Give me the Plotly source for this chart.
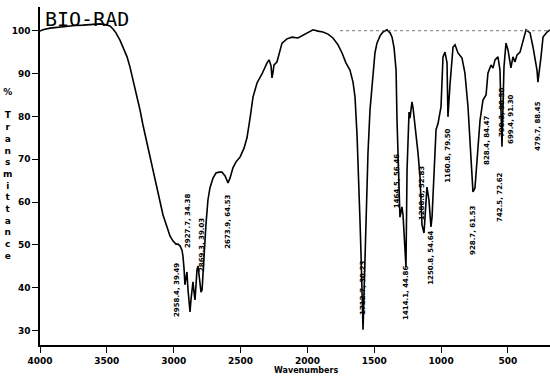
import plotly.graph_objects as go

# Spectrum (x in the chart's axis units, y in % transmittance)
wavenumber = [4000, 3978, 3925, 3850, 3798, 3738, 3678, 3626, 3551, 3506, 3477, 3454, 3432, 3402,
              3379, 3349, 3327, 3305, 3275, 3252, 3230, 3200, 3177, 3155, 3125, 3103, 3080, 3050,
              3028, 3005, 2983, 2968, 2953, 2938, 2931, 2923, 2916, 2908, 2901, 2893, 2886, 2878,
              2871, 2863, 2856, 2848, 2841, 2833, 2826, 2818, 2811, 2803, 2796, 2788, 2781, 2774,
              2759, 2744, 2729, 2706, 2684, 2661, 2639, 2616, 2594, 2579, 2557, 2534, 2504, 2474,
              2452, 2429, 2407, 2377, 2340, 2302, 2287, 2272, 2265, 2257, 2250, 2228, 2205, 2190,
              2153, 2115, 2071, 2033, 1996, 1958, 1921, 1884, 1846, 1809, 1771, 1741, 1712, 1682,
              1659, 1644, 1629, 1614, 1607, 1599, 1592, 1584, 1577, 1569, 1562, 1547, 1532, 1510,
              1495, 1480, 1457, 1435, 1405, 1382, 1367, 1352, 1337, 1330, 1323, 1315, 1308, 1300,
              1293, 1285, 1278, 1270, 1263, 1255, 1248, 1240, 1233, 1225, 1218, 1210, 1195, 1180,
              1173, 1158, 1151, 1143, 1128, 1113, 1106, 1091, 1076, 1068, 1053, 1038, 1023, 1001,
              986, 971, 956, 949, 934, 926, 911, 896, 874, 844, 822, 799, 777, 762, 747, 732, 709,
              687, 664, 650, 627, 612, 597, 575, 560, 545, 530, 515, 500, 478, 463, 448, 433, 410,
              388, 365, 335, 313, 283, 276, 253, 238, 208, 186]
transmittance = [99.9, 100.2, 100.6, 100.9, 101.1, 101.2, 101.3, 101.4, 101.6, 101.4, 101.1, 100.4,
                 99.5, 97.8, 96.2, 93.9, 91.5, 88.5, 85.0, 81.5, 78.0, 73.8, 69.8, 67.0, 63.3, 59.8,
                 57.0, 54.2, 52.1, 50.9, 50.2, 50.2, 49.8, 48.8, 47.4, 44.6, 40.7, 42.3, 43.7, 39.5,
                 36.0, 34.4, 37.2, 40.7, 41.4, 39.0, 37.2, 40.7, 44.2, 45.1, 43.0, 40.7, 39.0, 39.5,
                 43.7, 47.7, 54.7, 60.5, 63.3, 65.6, 66.8, 67.0, 67.0, 66.1, 64.5, 65.6, 68.0, 69.4,
                 70.5, 72.6, 75.0, 79.6, 84.5, 87.8, 89.9, 92.5, 93.2, 91.8, 89.0, 90.4, 92.0, 92.7,
                 95.5, 97.1, 98.1, 98.5, 98.3, 99.0, 99.5, 100.2, 99.9, 99.7, 99.2, 98.3, 96.7, 94.8,
                 92.5, 90.8, 88.0, 84.5, 75.7, 64.0, 55.8, 47.7, 39.5, 30.2, 38.3, 46.5, 57.0, 71.5,
                 81.5, 90.8, 94.8, 97.1, 98.8, 99.7, 100.2, 99.5, 98.5, 96.0, 90.8, 79.1, 72.2, 64.0,
                 56.5, 57.7, 58.9, 57.0, 51.9, 47.7, 44.9, 67.5, 76.9, 81.0, 79.6, 82.4, 83.4, 82.0,
                 78.0, 74.5, 71.5, 65.9, 58.9, 54.7, 52.8, 58.9, 63.5, 60.5, 54.2, 56.5, 66.8, 76.9,
                 78.4, 82.2, 93.9, 95.0, 92.5, 79.9, 87.3, 90.8, 96.2, 96.7, 94.8, 93.6, 90.1, 82.2,
                 71.5, 62.4, 63.3, 69.8, 79.1, 83.8, 85.0, 90.1, 92.0, 91.3, 93.2, 93.9, 90.8, 72.9,
                 91.5, 97.1, 95.5, 91.3, 93.9, 92.7, 94.3, 95.0, 97.8, 100.2, 99.5, 96.2, 90.8, 88.0,
                 93.9, 98.5, 99.7, 100.2]

# Peak labels (text as printed, and where they sit on the axes)
peak_text = ["2958.4, 39.49", "2927.7, 34.38", "2869.3, 39.03", "2673.9, 64.53",
             "1712.7, 30.23", "1464.5, 56.46", "1414.1, 44.86", "1288.6, 52.83",
             "1250.8, 54.64", "1160.8, 79.50", "928.7, 61.53", "828.4, 84.47",
             "790.3, 90.50", "742.5, 72.62", "699.4, 91.30", "479.7, 88.45"]
peak_x = [2975, 2893, 2788, 2594, 1584, 1330, 1263, 1143, 1076, 949, 762, 657, 545, 560, 478, 276]
peak_y = [39.5, 55.6, 50.0, 55.4, 40.0, 64.9, 38.8, 62.1, 47.0, 70.8, 53.5, 74.5, 81.0, 61.2, 79.4, 77.8]

x_ticks = [4000, 3500, 3000, 2500, 2000, 1500, 1000, 500]
y_ticks = [30, 40, 50, 60, 70, 80, 90, 100]

fig = go.Figure()
fig.add_trace(go.Scatter(x=wavenumber, y=transmittance, mode="lines",
                         line=dict(color="black", width=1.6), hoverinfo="skip",
                         showlegend=False))

fig.add_shape(type="line", xref="x", yref="y", x0=1756, x1=186, y0=100, y1=100,
              line=dict(color="#777777", width=1, dash="dot"))

for t, xv, yv in zip(peak_text, peak_x, peak_y):
    fig.add_annotation(x=xv, y=yv, text=t, textangle=-90, showarrow=False,
                       font=dict(family="DejaVu Sans", size=7, color="black", weight="bold"))

fig.add_annotation(xref="paper", yref="paper", x=0.006, y=0.965, xanchor="left", yanchor="middle",
                   text="BIO-RAD", showarrow=False,
                   font=dict(family="DejaVu Sans Mono", size=20, color="black"))

ytitle = "<br>".join(list("%") + [" "] + list("Transmittance"))
fig.add_annotation(xref="paper", yref="paper", x=-0.063, y=0.506, xanchor="center", yanchor="middle",
                   text=ytitle, showarrow=False,
                   font=dict(family="DejaVu Sans", size=9, color="black", weight="bold"))

fig.add_annotation(xref="paper", yref="paper", x=0.5216, y=-0.074, xanchor="center", yanchor="middle",
                   text="Wavenumbers", showarrow=False,
                   font=dict(family="DejaVu Sans", size=8, color="black", weight="bold"))

fig.update_layout(
    width=550, height=384,
    margin=dict(l=40, r=0, t=7, b=39),
    paper_bgcolor="white", plot_bgcolor="white",
    xaxis=dict(range=[4000, 185.8], tickvals=x_ticks, ticks="outside", ticklen=6,
               tickcolor="black", showline=True, linecolor="black", linewidth=1.5,
               showgrid=False, zeroline=False,
               tickfont=dict(family="DejaVu Sans", size=9, color="black", weight="bold")),
    yaxis=dict(range=[26.66, 105.53], tickvals=y_ticks, ticks="outside", ticklen=6,
               tickcolor="black", showline=True, linecolor="black", linewidth=1.5,
               showgrid=False, zeroline=False,
               tickfont=dict(family="DejaVu Sans", size=9, color="black", weight="bold")),
)

fig.write_html("out.html")
